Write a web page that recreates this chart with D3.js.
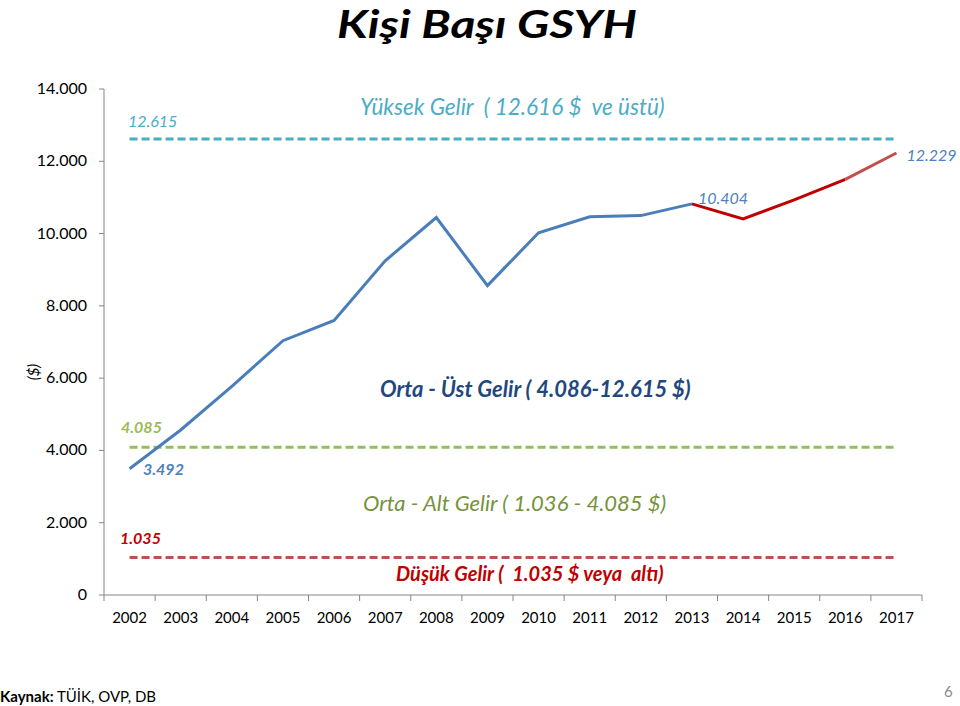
<!DOCTYPE html>
<html><head><meta charset="utf-8">
<script src="https://cdn.jsdelivr.net/npm/d3@7"></script>
<style>body{margin:0;background:#fff}svg{display:block}text{font-family:Lato,"Open Sans",sans-serif;white-space:pre}</style>
</head><body>
<script>
const years = ["2002","2003","2004","2005","2006","2007","2008","2009","2010","2011","2012","2013","2014","2015","2016","2017"];
const gdp = [3492,4565,5775,7036,7597,9247,10444,8561,10022,10466,10497,10822,10404,10930,11500,12229];
const yTicks = [0,2000,4000,6000,8000,10000,12000,14000];
const thresholds = [
  {value:12615, label:"12.615", color:"#4BACC6"},
  {value:4085, label:"4.085", color:"#9BBB59"},
  {value:1035, label:"1.035", color:"#C0504D"}
];

const W=960,H=706;
const svg=d3.select("body").append("svg").attr("width",W).attr("height",H);
const x=d3.scaleBand().domain(years).range([104,922]);
const y=d3.scaleLinear().domain([0,14000]).range([595,89]);
const cx=d=>x(d)+x.bandwidth()/2;

// title
svg.append("text").attr("x",487).attr("y",38).attr("text-anchor","middle")
  .attr("font-size",39).attr("font-weight","bold").attr("font-style","italic").attr("fill","#000")
  .attr("textLength",300).attr("lengthAdjust","spacingAndGlyphs").text("Kişi Başı GSYH");

// axes
const axisColor="#868686";
svg.append("line").attr("x1",104).attr("x2",104).attr("y1",y(14000)).attr("y2",y(0)).attr("stroke",axisColor);
svg.append("line").attr("x1",104).attr("x2",922).attr("y1",y(0)).attr("y2",y(0)).attr("stroke",axisColor);
yTicks.forEach(t=>{
  svg.append("line").attr("x1",99).attr("x2",104).attr("y1",y(t)).attr("y2",y(t)).attr("stroke",axisColor);
  svg.append("text").attr("x",87).attr("y",y(t)+5).attr("text-anchor","end").attr("font-size",16).attr("fill","#000")
    .text(t===0?"0":d3.format(".3f")(t/1000));
});
years.forEach((yr,i)=>{
  svg.append("line").attr("x1",x(yr)).attr("x2",x(yr)).attr("y1",y(0)).attr("y2",y(0)+6).attr("stroke",axisColor);
  svg.append("text").attr("x",cx(yr)).attr("y",623).attr("text-anchor","middle").attr("font-size",15).attr("fill","#000").text(yr);
});
svg.append("line").attr("x1",922).attr("x2",922).attr("y1",y(0)).attr("y2",y(0)+6).attr("stroke",axisColor);
svg.append("text").attr("transform","translate(39,372) rotate(-90)").attr("text-anchor","middle").attr("font-size",15).attr("font-style","italic").text("($)");

// thresholds
thresholds.forEach(t=>{
  svg.append("line").attr("x1",cx("2002")).attr("x2",cx("2017")).attr("y1",y(t.value)).attr("y2",y(t.value))
    .attr("stroke",t.color).attr("stroke-width",3).attr("stroke-dasharray","8,4");
});

// line
const line=d3.line().x(d=>cx(d[0])).y(d=>y(d[1]));
const pts=years.map((yr,i)=>[yr,gdp[i]]);
svg.append("path").datum(pts.slice(0,12)).attr("d",line).attr("fill","none").attr("stroke","#4A7EBB").attr("stroke-width",3);
svg.append("path").datum(pts.slice(11,15)).attr("d",line).attr("fill","none").attr("stroke","#C00000").attr("stroke-width",3);
svg.append("path").datum(pts.slice(14,16)).attr("d",line).attr("fill","none").attr("stroke","#C0504D").attr("stroke-width",3);

// labels
function lbl(xp,yp,txt,color,size,bold){
  svg.append("text").attr("x",xp).attr("y",yp).attr("font-size",size).attr("font-style","italic")
    .attr("font-weight",bold?"bold":"normal").attr("fill",color).text(txt);
}
lbl(128,127,thresholds[0].label,"#4BACC6",16,false);
lbl(360,115,"Yüksek Gelir  ( 12.616 $  ve üstü)","#4BACC6",22.5,false);
lbl(cx("2017")+10,161,d3.format(".3f")(gdp[15]/1000),"#4F81BD",16,false);
lbl(698,204,d3.format(".3f")(gdp[12]/1000),"#4F81BD",16,false);
lbl(380,397,"Orta - Üst Gelir ( 4.086-12.615 $)","#1F497D",22,true);
lbl(121,433,thresholds[1].label,"#9BBB59",16,true);
lbl(143,475,d3.format(".3f")(gdp[0]/1000),"#4F81BD",16,true);
lbl(363,511,"Orta - Alt Gelir ( 1.036 - 4.085 $)","#76923C",22,false);
lbl(120,544,thresholds[2].label,"#C00000",16,true);
lbl(396,581,"Düşük Gelir (  1.035 $ veya  altı)","#C00000",20,true);

// footer
const f=svg.append("text").attr("x",0).attr("y",702).attr("font-size",15).attr("fill","#000");
f.append("tspan").attr("font-weight","bold").text("Kaynak:");
f.append("tspan").text(" TÜİK, OVP, DB");
svg.append("text").attr("x",944).attr("y",697).attr("font-size",15).attr("fill","#8C8C8C").text("6");
</script>
</body></html>
